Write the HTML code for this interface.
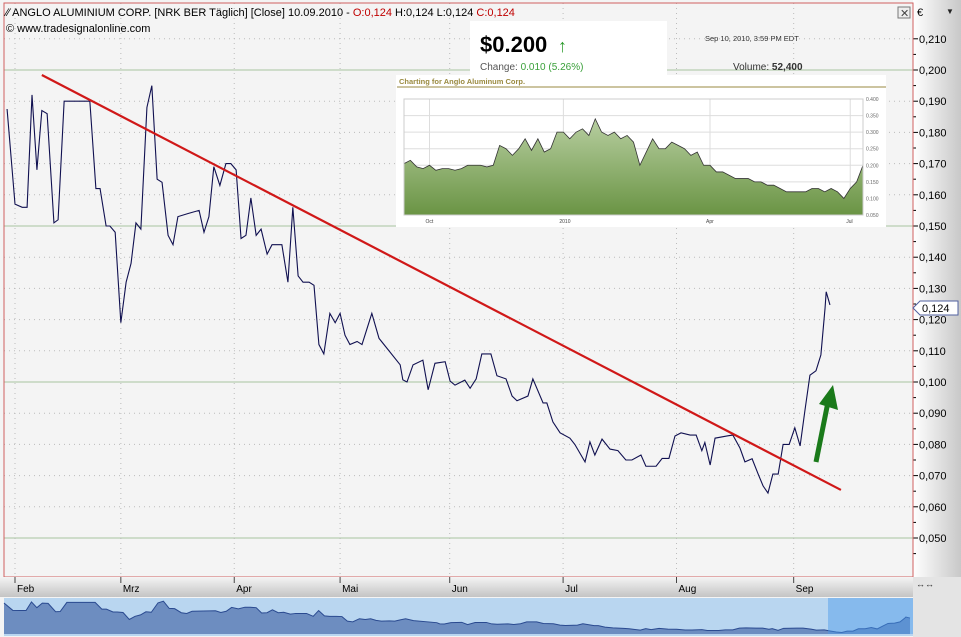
<!DOCTYPE html>
<html><head><meta charset="utf-8"><style>
body{margin:0;width:961px;height:637px;overflow:hidden;background:#f2f2f2;font-family:"Liberation Sans",sans-serif;}
svg{display:block}
</style></head><body>
<svg id="c" width="961" height="637" xmlns="http://www.w3.org/2000/svg">
<defs>
<linearGradient id="ax" x1="0" x2="1"><stop offset="0" stop-color="#ffffff"/><stop offset="1" stop-color="#c8c8c8"/></linearGradient>
<linearGradient id="bx" x1="0" y1="0" x2="0" y2="1"><stop offset="0" stop-color="#f4f4f4"/><stop offset="1" stop-color="#c4c4c4"/></linearGradient>
<linearGradient id="gf" x1="0" y1="0" x2="0" y2="1"><stop offset="0" stop-color="#b7cea0"/><stop offset="1" stop-color="#6a9444"/></linearGradient>
</defs>
<rect x="0" y="0" width="961" height="637" fill="#f4f4f4"/>
<rect x="913" y="0" width="48" height="577" fill="url(#ax)"/>
<g id="grid"></g>
<rect x="4" y="3" width="909" height="574" fill="none" stroke="#d06060" stroke-width="1"/>
<text x="6" y="16" font-size="11" fill="#000">∕∕ ANGLO ALUMINIUM CORP. [NRK BER  Täglich] [Close] 10.09.2010 - <tspan fill="#c00000">O:0,124</tspan> H:0,124 L:0,124 <tspan fill="#c00000">C:0,124</tspan></text>
<text x="6" y="32" font-size="11" fill="#000">© www.tradesignalonline.com</text>
<rect x="898" y="7" width="12" height="11" fill="#eee" stroke="#777"/>
<text x="900" y="17" font-size="11" fill="#444">✕</text>
<text x="917" y="16" font-size="11" fill="#000">€</text>
<text x="946" y="14" font-size="8" fill="#222">▼</text>
<!-- inset -->
<rect x="470" y="21" width="197" height="54" fill="#fff"/>
<text x="480" y="52" font-size="22" font-weight="bold" fill="#000">$0.200</text>
<text x="558" y="52" font-size="18" font-weight="bold" fill="#2a9a2a">↑</text>
<text x="480" y="70" font-size="10" fill="#555">Change: <tspan fill="#3aa03a">0.010 (5.26%)</tspan></text>
<text x="705" y="41" font-size="7.5" fill="#333">Sep 10, 2010, 3:59 PM EDT</text>
<text x="733" y="70" font-size="10" fill="#333">Volume: <tspan font-weight="bold">52,400</tspan></text>
<rect x="396" y="75" width="490" height="152" fill="#fff"/>
<text x="399" y="84" font-size="7.5" font-weight="bold" fill="#9a8a40">Charting for Anglo Aluminum Corp.</text>
<line x1="397" y1="87" x2="886" y2="87" stroke="#9a8a40" stroke-width="1"/>
<g id="inset"></g>
<g id="main"></g>
<path d="M816,462 L828,402" stroke="#1a7a1a" stroke-width="5" fill="none"/>
<polygon points="819,404 833,385 838,410" fill="#1a7a1a"/>
<!-- price marker -->
<polygon points="913,308 920,301 958,301 958,315 920,315" fill="#fff" stroke="#5060a0"/>
<text x="922" y="312" font-size="11" fill="#000">0,124</text>
<rect x="0" y="577" width="913" height="20" fill="url(#bx)"/>
<g id="xt"></g>
<rect x="913" y="577" width="48" height="60" fill="#e4e4e4"/>
<text x="916" y="587" font-size="9" fill="#333">↔↔</text>
<g id="nav"></g>
</svg>
<script>
const days=[-2.1,0,1.9,3.2,4.5,5.8,7.1,8.5,10.3,11.4,13,19.8,21.4,22.5,24.1,25.1,26.5,28,29.4,30.7,32,33.3,34.9,36.2,37.6,38.9,40.5,41.8,43.1,45.8,48.7,50,51.3,52.6,54.2,55.8,57.1,58.5,59.8,61.1,62.4,63.8,65.1,66.7,68,70.6,72.2,73.5,74.9,76.2,77.8,79.1,80.4,81.7,83.3,84.7,86,87.3,88.6,90.5,91.8,93.1,94.4,96.3,101.9,102.6,103.7,105.3,107.9,109.3,111.1,113.8,115.1,116.4,119,120.4,122,123.5,125.9,127.5,129.9,131.5,132.8,135.7,137,139.7,140.7,142.3,144.2,146.8,148.1,150.8,152.1,153.4,155.3,157.4,159.5,161.6,163.2,165.6,166.9,169.6,171.2,173,174.6,176.2,178.6,180.2,181.7,182.5,183.9,185.2,188.4,189.9,191.8,193.1,195,196.6,197.9,199.2,200.5,201.9,203.2,204.8,206.3,207.7,209,210.3,211.9,213.2,214.3,214.6,215.6];
const closes=[.1875,.157,.156,.156,.192,.168,.187,.186,.151,.152,.190,.190,.162,.162,.150,.150,.148,.119,.132,.138,.151,.149,.188,.195,.165,.164,.147,.144,.153,.154,.155,.148,.153,.169,.163,.170,.170,.168,.146,.147,.159,.147,.149,.141,.144,.144,.132,.156,.134,.132,.132,.131,.112,.109,.122,.119,.122,.115,.112,.113,.112,.117,.122,.114,.1055,.1007,.100,.1055,.107,.0975,.106,.1065,.1003,.099,.1006,.098,.101,.109,.109,.102,.101,.0955,.094,.0955,.101,.0933,.0933,.0872,.0837,.082,.080,.0744,.0808,.0766,.0817,.0785,.078,.075,.075,.0766,.073,.073,.0755,.0755,.0827,.0837,.083,.083,.078,.0806,.0734,.082,.0827,.083,.0788,.0744,.0754,.0705,.0667,.0644,.0705,.0705,.080,.080,.0853,.0795,.0911,.1022,.1036,.1087,.1237,.1289,.1247];
const trendDays=[7.1,218.5];
const trendVals=[.1984,.0654];
const monthLabels=["Feb","Mrz","Apr","Mai","Jun","Jul","Aug","Sep"];
const monthDays=[0,28,58,86,115,145,175,206];
const yTicks=[0.05,0.06,0.07,0.08,0.09,0.10,0.11,0.12,0.13,0.14,0.15,0.16,0.17,0.18,0.19,0.20,0.21];
const insetVals=[.205,.215,.195,.19,.2,.185,.19,.19,.185,.19,.2,.2,.2,.195,.2,.26,.25,.23,.25,.28,.245,.28,.24,.25,.3,.3,.28,.3,.31,.29,.34,.3,.29,.3,.28,.29,.27,.2,.24,.28,.25,.25,.27,.26,.25,.23,.24,.2,.2,.18,.18,.17,.16,.16,.16,.15,.15,.14,.14,.13,.12,.12,.12,.12,.13,.13,.12,.13,.12,.1,.13,.15,.2];
const insetTicks=[0.05,0.1,0.15,0.2,0.25,0.3,0.35,0.4];
const insetMonths=["Oct","2010","Apr","Jul"];
const insetMonthIdx=[4,25,48,70];

const NS="http://www.w3.org/2000/svg";
function mk(t,a,p){const e=document.createElementNS(NS,t);for(const k in a)e.setAttribute(k,a[k]);p.appendChild(e);return e;}
const X=d=>15+d*3.78;
const Y=v=>70+(0.200-v)*3120;
const grid=document.getElementById('grid');
yTicks.forEach(v=>{
  const major=Math.abs(v*100-Math.round(v*20)*5)<1e-6;
  const l=mk('line',{x1:4,x2:913,y1:Y(v),y2:Y(v),stroke:major?'#a8c4a0':'#bbb','stroke-dasharray':major?'':'1,4'},grid);
  
  
  mk('line',{x1:913,x2:918,y1:Y(v),y2:Y(v),stroke:'#000'},grid);
  mk('line',{x1:913,x2:916,y1:Y(v)+15.6,y2:Y(v)+15.6,stroke:'#000'},grid);
  const t=mk('text',{x:919,y:Y(v)+4,'font-size':11,fill:'#000'},grid);
  t.textContent=v.toFixed(3).replace('.',',');
  
  
});
const xt=document.getElementById('xt');
monthDays.forEach((d,i)=>{
  mk('line',{x1:X(d),x2:X(d),y1:3,y2:577,stroke:'#bbb','stroke-dasharray':'1,4'},grid);
  mk('line',{x1:X(d),x2:X(d),y1:577,y2:583,stroke:'#444'},xt);
  const t=mk('text',{x:X(d)+2,y:592,'font-size':10,fill:'#000'},xt);
  t.textContent=monthLabels[i];
  
  
});
const main=document.getElementById('main');
const pl=mk('polyline',{points:days.map((d,i)=>X(d)+','+Y(closes[i])).join(' '),fill:'none',stroke:'#101050','stroke-width':1.1},main);


const tl=mk('line',{x1:X(trendDays[0]),y1:Y(trendVals[0]),x2:X(trendDays[1]),y2:Y(trendVals[1]),stroke:'#d01818','stroke-width':2.2},main);


// inset
const ins=document.getElementById('inset');
const IX=i=>404+i*(459/(insetVals.length-1));
const IY=v=>215-(v-0.05)*(116/0.35);
insetTicks.forEach(v=>{
  mk('line',{x1:404,x2:863,y1:IY(v),y2:IY(v),stroke:'#ddd'},ins);
  const t=mk('text',{x:866,y:IY(v)+2,'font-size':5,fill:'#666'},ins);
  t.textContent=v.toFixed(3);
});
insetMonthIdx.forEach((k,i)=>{
  mk('line',{x1:IX(k),x2:IX(k),y1:99,y2:215,stroke:'#ddd'},ins);
  const t=mk('text',{x:IX(k)-4,y:223,'font-size':5,fill:'#444'},ins);
  t.textContent=insetMonths[i];
});
const ia=mk('polygon',{points:'404,215 '+insetVals.map((v,i)=>IX(i)+','+IY(v)).join(' ')+' 863,215',fill:'url(#gf)',stroke:'none'},ins);


mk('polyline',{points:insetVals.map((v,i)=>IX(i)+','+IY(v)).join(' '),fill:'none',stroke:'#333','stroke-width':0.8},ins);
mk('rect',{x:404,y:99,width:459,height:116,fill:'none',stroke:'#ccc'},ins);
// navigator
const nav=document.getElementById('nav');
const bg=mk('rect',{x:4,y:598,width:909,height:38,fill:'#b9d6f0'},nav);


const NX=d=>4+(d+2.1)*(906/(217.7));
const NY=v=>600+(0.20-v)*240;
mk('polygon',{points:'4,634 '+days.map((d,i)=>NX(d)+','+NY(closes[i])).join(' ')+' '+NX(days[days.length-1])+',634',fill:'#6d8dc0'},nav);
mk('polyline',{points:days.map((d,i)=>NX(d)+','+NY(closes[i])).join(' '),fill:'none',stroke:'#2a4a90','stroke-width':1},nav);
const sel=mk('rect',{x:828,y:598,width:85,height:36,fill:'#4a9ae8','fill-opacity':0.45},nav);


</script>
</body></html>
